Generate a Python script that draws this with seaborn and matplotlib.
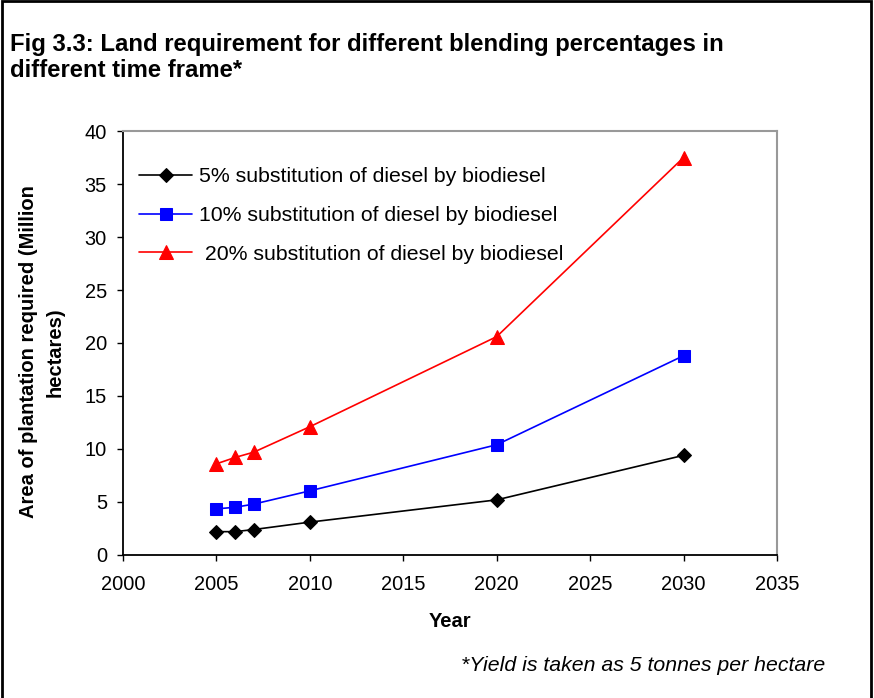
import pandas as pd
import matplotlib.pyplot as plt
import seaborn as sns
from matplotlib.patches import Rectangle

years = [2005, 2006, 2007, 2010, 2020, 2030]
blend_5 = [2.2, 2.2, 2.4, 3.1, 5.2, 9.4]
blend_10 = [4.35, 4.5, 4.8, 6.05, 10.4, 18.8]
blend_20 = [8.6, 9.2, 9.7, 12.1, 20.6, 37.5]
labels = ['5% substitution of diesel by biodiesel',
          '10% substitution of diesel by biodiesel',
          ' 20% substitution of diesel by biodiesel']
colors = ['black', '#0000ff', '#ff0000']
markers = ['D', 's', '^']
marker_sizes = [7.5, 9, 10]

df = pd.DataFrame({'Year': years * 3,
                   'Area': blend_5 + blend_10 + blend_20,
                   'Series': [labels[0]] * 6 + [labels[1]] * 6 + [labels[2]] * 6})

sns.set_style('white')
plt.rcParams['font.family'] = ['Liberation Sans', 'DejaVu Sans']
plt.rcParams['text.color'] = 'black'
plt.rcParams['axes.labelcolor'] = 'black'
plt.rcParams['xtick.color'] = 'black'
plt.rcParams['ytick.color'] = 'black'

fig = plt.figure(figsize=(8.74, 6.98), dpi=100)
ax = fig.add_axes([0.1407, 0.2049, 0.7483, 0.6074])

for lab, col, mk, ms in zip(labels, colors, markers, marker_sizes):
    sub = df[df['Series'] == lab]
    sns.lineplot(data=sub, x='Year', y='Area', ax=ax, color=col, marker=mk,
                 markersize=ms, markeredgecolor=col, linewidth=1.2, label=lab)

ax.set_xlim(2000, 2035)
ax.set_ylim(0, 40)
ax.set_xticks(range(2000, 2036, 5))
ax.set_yticks(range(0, 41, 5))
ax.tick_params(axis='both', direction='out', length=4.5, width=1, labelsize=14.4,
               bottom=True, left=True)
ax.tick_params(axis='x', pad=10)
ax.tick_params(axis='y', pad=7)

for side in ['left', 'bottom']:
    ax.spines[side].set_color('black')
    ax.spines[side].set_linewidth(1.3)
for side in ['top', 'right']:
    ax.spines[side].set_color('#999999')
    ax.spines[side].set_linewidth(1.5)

ax.set_xlabel('Year', fontsize=14.5, fontweight='bold', labelpad=13)
ax.set_ylabel('')
fig.text(0.048, 0.4957, 'Area of plantation required (Million\nhectares)', fontsize=14.5,
         fontweight='bold', rotation=90, ha='center', va='center',
         multialignment='center', linespacing=1.5)

leg = ax.legend(loc='upper left', bbox_to_anchor=(0.025, 0.914), frameon=False,
                fontsize=15.3, handlelength=2.5, handletextpad=0.3,
                labelspacing=0.92, borderaxespad=0, borderpad=0)

fig.text(0.011, 0.9269, 'Fig 3.3: Land requirement for different blending percentages in',
         fontsize=17.2, fontweight='bold', va='baseline')
fig.text(0.011, 0.8897, 'different time frame*', fontsize=17.2, fontweight='bold',
         va='baseline')
fig.text(0.944, 0.047, '*Yield is taken as 5 tonnes per hectare', fontsize=15.3,
         style='italic', ha='right', va='center')

fig.patches.append(Rectangle((0.002, -0.01), 0.995, 1.008, transform=fig.transFigure,
                             fill=False, edgecolor='black', linewidth=2))

plt.savefig('out.png', dpi=100)
